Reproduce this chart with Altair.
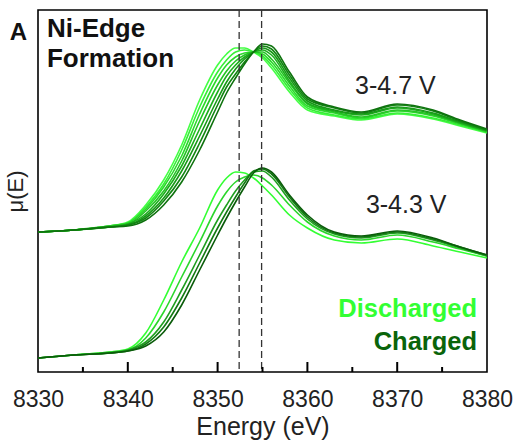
import altair as alt
import pandas as pd

# Energy grid (eV) shared by all spectra
energy = [8330, 8334, 8338, 8340, 8342, 8344, 8346, 8348, 8350, 8351, 8352, 8353,
          8354, 8355, 8356, 8358, 8360, 8363, 8366, 8370, 8374, 8377, 8380]

# 3-4.7 V spectra, discharged (light) -> charged (dark)
top_0 = [1.40, 1.42, 1.46, 1.50, 1.67, 1.92, 2.27, 2.72, 3.07, 3.18, 3.24, 3.24, 3.20, 3.14, 3.04, 2.80, 2.62, 2.56, 2.52, 2.58, 2.53, 2.46, 2.39]
top_1 = [1.40, 1.42, 1.46, 1.49, 1.65, 1.88, 2.22, 2.65, 3.00, 3.12, 3.20, 3.22, 3.20, 3.16, 3.07, 2.83, 2.64, 2.57, 2.53, 2.59, 2.54, 2.47, 2.40]
top_2 = [1.40, 1.42, 1.46, 1.49, 1.63, 1.85, 2.16, 2.58, 2.94, 3.07, 3.15, 3.19, 3.20, 3.18, 3.10, 2.86, 2.66, 2.59, 2.54, 2.61, 2.56, 2.48, 2.40]
top_3 = [1.40, 1.42, 1.46, 1.48, 1.61, 1.81, 2.11, 2.51, 2.87, 3.01, 3.11, 3.17, 3.20, 3.20, 3.13, 2.89, 2.68, 2.60, 2.55, 2.62, 2.57, 2.49, 2.41]
top_4 = [1.40, 1.42, 1.45, 1.48, 1.58, 1.78, 2.06, 2.43, 2.80, 2.96, 3.07, 3.15, 3.20, 3.22, 3.17, 2.91, 2.69, 2.61, 2.57, 2.64, 2.58, 2.49, 2.41]
top_5 = [1.40, 1.42, 1.45, 1.47, 1.56, 1.74, 2.01, 2.36, 2.73, 2.90, 3.03, 3.13, 3.20, 3.24, 3.20, 2.94, 2.71, 2.62, 2.58, 2.65, 2.59, 2.50, 2.42]
top_6 = [1.40, 1.42, 1.45, 1.47, 1.54, 1.71, 1.95, 2.29, 2.67, 2.85, 2.98, 3.10, 3.20, 3.26, 3.23, 2.97, 2.73, 2.64, 2.59, 2.67, 2.61, 2.51, 2.42]
top_7 = [1.40, 1.42, 1.45, 1.46, 1.52, 1.67, 1.90, 2.22, 2.60, 2.79, 2.94, 3.08, 3.20, 3.28, 3.26, 3.00, 2.75, 2.65, 2.60, 2.68, 2.62, 2.52, 2.43]

# 3-4.3 V spectra, discharged (light) -> charged (dark)
bot_0 = [0.14, 0.17, 0.20, 0.23, 0.39, 0.72, 1.10, 1.44, 1.82, 1.94, 2.00, 1.99, 1.94, 1.86, 1.77, 1.57, 1.44, 1.32, 1.29, 1.33, 1.26, 1.20, 1.14]
bot_1 = [0.14, 0.17, 0.20, 0.22, 0.34, 0.60, 0.95, 1.30, 1.66, 1.80, 1.90, 1.95, 1.97, 1.94, 1.87, 1.67, 1.50, 1.36, 1.32, 1.37, 1.30, 1.23, 1.16]
bot_2 = [0.14, 0.17, 0.19, 0.22, 0.30, 0.50, 0.82, 1.17, 1.52, 1.67, 1.81, 1.92, 2.00, 2.01, 1.95, 1.72, 1.53, 1.38, 1.34, 1.39, 1.32, 1.24, 1.16]
bot_3 = [0.14, 0.17, 0.19, 0.21, 0.28, 0.45, 0.74, 1.09, 1.44, 1.60, 1.75, 1.89, 2.01, 2.03, 1.98, 1.75, 1.55, 1.39, 1.35, 1.40, 1.33, 1.25, 1.17]
bot_4 = [0.14, 0.17, 0.19, 0.21, 0.26, 0.40, 0.67, 1.02, 1.37, 1.54, 1.70, 1.85, 1.99, 2.04, 2.00, 1.77, 1.57, 1.40, 1.36, 1.41, 1.34, 1.25, 1.17]

top_series = [top_0, top_1, top_2, top_3, top_4, top_5, top_6, top_7]
bot_series = [bot_0, bot_1, bot_2, bot_3, bot_4]
top_colors = ["#44ff44", "#36ee36", "#2bd92b", "#23c423", "#1cae1c", "#179a17", "#128612", "#0e720e"]
bot_colors = ["#33ff33", "#2bd62b", "#1f9f1f", "#137a13", "#0a5c0a"]

dash_E = [8352.4, 8354.9]
major_ticks = [8340, 8350, 8360, 8370]
minor_ticks = [8335, 8345, 8355, 8365, 8375]
x_labels = [8330, 8340, 8350, 8360, 8370, 8380]

rows = []
names, colors = [], []
for i, s in enumerate(bot_series):
    n = f"b{i}"
    names.append(n); colors.append(bot_colors[i])
    for e, v in zip(energy, s):
        rows.append({"E": e, "mu": v, "curve": n})
for i, s in enumerate(top_series):
    n = f"t{i}"
    names.append(n); colors.append(top_colors[i])
    for e, v in zip(energy, s):
        rows.append({"E": e, "mu": v, "curve": n})
df = pd.DataFrame(rows)

xs = alt.Scale(domain=[8330, 8380], nice=False, zero=False)
ys = alt.Scale(domain=[0, 3.62], nice=False, zero=False)

lines = alt.Chart(df).mark_line(interpolate="monotone", strokeWidth=1.6).encode(
    x=alt.X("E:Q", scale=xs, axis=alt.Axis(
        values=x_labels, title="Energy (eV)", ticks=False, domain=False, grid=False,
        labelFontSize=23, labelPadding=16, labelColor="#222222", format="d",
        labelFlush=False, labelOverlap=False,
        titleFontSize=25, titleFontWeight="normal", titleColor="#222222",
        titleY=42, titleBaseline="top")),
    y=alt.Y("mu:Q", scale=ys, axis=alt.Axis(
        title="μ(E)", ticks=False, labels=False, domain=False, grid=False,
        titleFontSize=22, titleFontWeight="normal", titleColor="#222222",
        titleAngle=270, titleX=-11, titleY=181, titleAlign="center",
        titleBaseline="bottom")),
    color=alt.Color("curve:N", scale=alt.Scale(domain=names, range=colors), legend=None),
    detail="curve:N",
)

dashes = alt.Chart(pd.DataFrame({"E": dash_E})).mark_rule(
    color="#333333", strokeDash=[7, 4], strokeWidth=1.3).encode(x=alt.X("E:Q", scale=xs))

# inward x-axis ticks (major 10 px, minor 5 px long)
maj = alt.Chart(pd.DataFrame({"E": major_ticks})).mark_rule(color="black", strokeWidth=2).encode(
    x=alt.X("E:Q", scale=xs), y=alt.value(362), y2=alt.value(352))
mnr = alt.Chart(pd.DataFrame({"E": minor_ticks})).mark_rule(color="black", strokeWidth=2).encode(
    x=alt.X("E:Q", scale=xs), y=alt.value(362), y2=alt.value(357))

ann = pd.DataFrame({
    "E": [8331.0, 8331.0, 8369.8, 8371.0],
    "mu": [3.35, 3.05, 2.78, 1.59],
    "t": ["Ni-Edge", "Formation", "3-4.7 V", "3-4.3 V"],
})
title_txt = alt.Chart(ann.iloc[:2]).mark_text(
    align="left", baseline="alphabetic", fontSize=26, fontWeight="bold",
    font="Liberation Sans", color="#111111").encode(
    x=alt.X("E:Q", scale=xs), y=alt.Y("mu:Q", scale=ys), text="t:N")
volt_txt = alt.Chart(ann.iloc[2:]).mark_text(
    align="center", baseline="alphabetic", fontSize=25,
    font="Liberation Sans", color="#222222").encode(
    x=alt.X("E:Q", scale=xs), y=alt.Y("mu:Q", scale=ys), text="t:N")

leg = pd.DataFrame({"E": [8378.9, 8378.9], "mu": [0.55, 0.22],
                    "t": ["Discharged", "Charged"], "c": ["#33ff33", "#0a640a"]})
leg_txt = alt.Chart(leg).mark_text(
    align="right", baseline="alphabetic", fontSize=25.5, fontWeight="bold",
    font="Liberation Sans").encode(
    x=alt.X("E:Q", scale=xs), y=alt.Y("mu:Q", scale=ys), text="t:N",
    color=alt.Color("c:N", scale=None))

panel = pd.DataFrame({"t": ["A"]})
panel_txt = alt.Chart(panel).mark_text(
    align="right", baseline="alphabetic", fontSize=24, fontWeight="bold",
    font="Liberation Sans", color="#111111").encode(
    x=alt.value(-11), y=alt.value(30), text="t:N")

chart = alt.layer(lines, dashes, maj, mnr, title_txt, volt_txt, leg_txt, panel_txt).resolve_scale(
    color="independent").properties(
    width=449, height=362,
    autosize=alt.AutoSizeParams(type="none"),
    padding={"left": 38, "top": 10, "right": 29, "bottom": 71},
).configure_view(stroke="black", strokeWidth=1.6).configure_axis(
    labelFont="Liberation Sans", titleFont="Liberation Sans")

chart.save("out.html", embed_options={"renderer": "svg", "actions": False})
